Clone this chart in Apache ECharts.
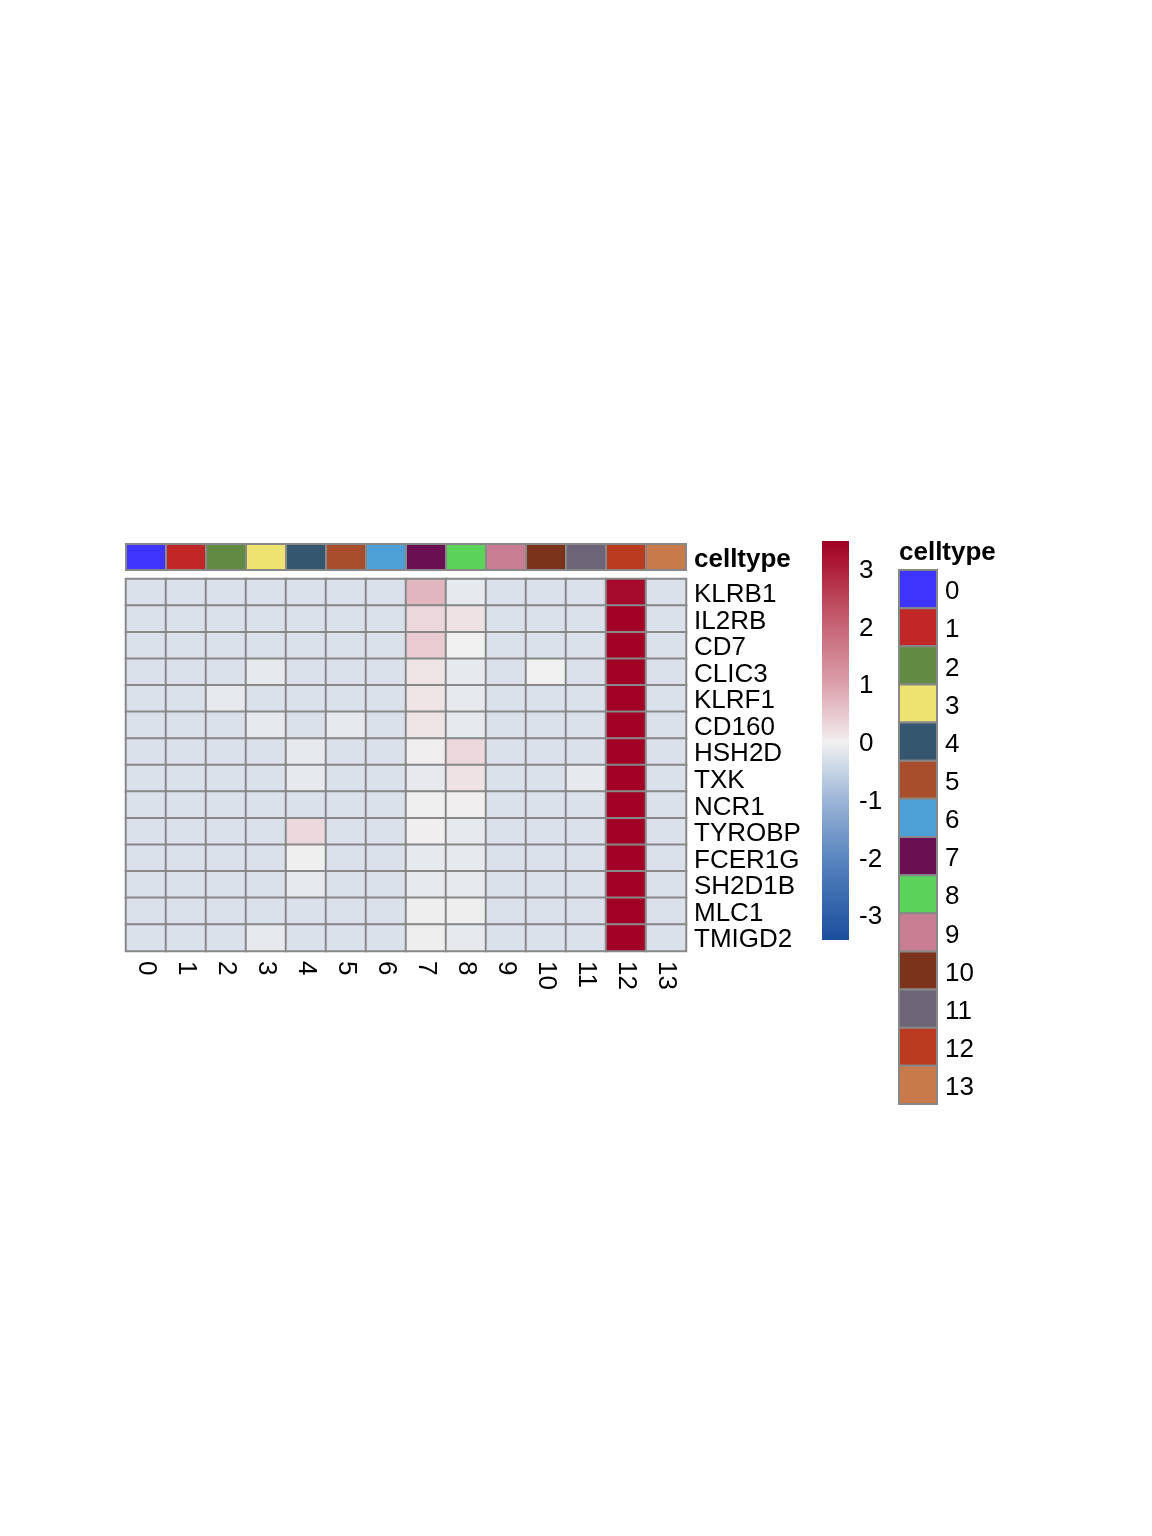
<!DOCTYPE html>
<html>
<head>
<meta charset="utf-8">
<script src="https://cdn.jsdelivr.net/npm/echarts@6/dist/echarts.min.js"></script>
<style>
html,body{margin:0;padding:0;background:#ffffff;}
#chart{width:1152px;height:1536px;}
</style>
</head>
<body>
<div id="chart"></div>
<script>
// ---- data ----
const clusters = ['0','1','2','3','4','5','6','7','8','9','10','11','12','13'];
const genes = ['KLRB1','IL2RB','CD7','CLIC3','KLRF1','CD160','HSH2D','TXK','NCR1','TYROBP','FCER1G','SH2D1B','MLC1','TMIGD2'];
const clusterColors = ['#3F33FF','#C22727','#638A43','#EEE371','#34566F','#A84E2C','#4DA0D6','#6A0F52','#5BD35A','#C97D92','#7B341B','#6D6478','#BA3B20','#C97A4A'];

const rowKLRB1  = [-0.27,-0.27,-0.27,-0.27,-0.27,-0.27,-0.27, 0.72,-0.13,-0.27,-0.27,-0.27,3.35,-0.27];
const rowIL2RB  = [-0.27,-0.27,-0.27,-0.27,-0.27,-0.27,-0.27, 0.29, 0.17,-0.27,-0.27,-0.27,3.47,-0.27];
const rowCD7    = [-0.27,-0.27,-0.27,-0.27,-0.27,-0.27,-0.27, 0.45, 0.00,-0.27,-0.27,-0.27,3.47,-0.27];
const rowCLIC3  = [-0.27,-0.27,-0.27,-0.13,-0.27,-0.27,-0.27, 0.15,-0.13,-0.27, 0.00,-0.27,3.47,-0.27];
const rowKLRF1  = [-0.27,-0.27,-0.13,-0.27,-0.27,-0.27,-0.27, 0.15,-0.13,-0.27,-0.27,-0.27,3.47,-0.27];
const rowCD160  = [-0.27,-0.27,-0.27,-0.13,-0.27,-0.13,-0.27, 0.15,-0.13,-0.27,-0.27,-0.27,3.47,-0.27];
const rowHSH2D  = [-0.27,-0.27,-0.27,-0.27,-0.13,-0.27,-0.27, 0.02, 0.29,-0.27,-0.27,-0.27,3.47,-0.27];
const rowTXK    = [-0.27,-0.27,-0.27,-0.27,-0.13,-0.27,-0.27,-0.12, 0.17,-0.27,-0.27,-0.13,3.47,-0.27];
const rowNCR1   = [-0.27,-0.27,-0.27,-0.27,-0.27,-0.27,-0.27,-0.02, 0.03,-0.27,-0.27,-0.27,3.47,-0.27];
const rowTYROBP = [-0.27,-0.27,-0.27,-0.27, 0.29,-0.27,-0.27, 0.03,-0.13,-0.27,-0.27,-0.27,3.47,-0.27];
const rowFCER1G = [-0.27,-0.27,-0.27,-0.27,-0.02,-0.27,-0.27,-0.13,-0.13,-0.27,-0.27,-0.27,3.47,-0.27];
const rowSH2D1B = [-0.27,-0.27,-0.27,-0.27,-0.13,-0.27,-0.27,-0.13,-0.13,-0.27,-0.27,-0.27,3.47,-0.27];
const rowMLC1   = [-0.27,-0.27,-0.27,-0.27,-0.27,-0.27,-0.27,-0.03,-0.03,-0.27,-0.27,-0.27,3.47,-0.27];
const rowTMIGD2 = [-0.27,-0.27,-0.27,-0.13,-0.27,-0.27,-0.27,-0.03,-0.13,-0.27,-0.27,-0.27,3.47,-0.27];
const matrix = [rowKLRB1,rowIL2RB,rowCD7,rowCLIC3,rowKLRF1,rowCD160,rowHSH2D,rowTXK,rowNCR1,rowTYROBP,rowFCER1G,rowSH2D1B,rowMLC1,rowTMIGD2];

const scaleTicks = [-3,-2,-1,0,1,2,3];
const scaleMin = -3.43, scaleMax = 3.48;
// palette (evenly spaced from -3.5 to 3.5)
const paletteValues = [-3.5,-3,-2.5,-2,-1.5,-1,-0.5,0,0.5,1,1.5,2,2.5,3,3.5];
const palette = ['#1B4E9E','#2D5FA8','#4372B4','#5A86C0','#7A9DCB','#9DB6D7','#C6D4E6','#F1F0F0','#E8C7CD','#DBA0AC','#D0828F','#C76576','#BB4559','#AE1F3A','#A10024'];

// ---- build ----
const heatData = [];
matrix.forEach((row, r) => row.forEach((v, c) => heatData.push([c, r, v])));
const annoData = clusters.map((c, i) => [i, 0, i]);
const legendData = clusters.map((c, i) => [0, i, i]);

const FONT = 'Liberation Sans, Arial, sans-serif';
const GRAY = '#888888';

const chart = echarts.init(document.getElementById('chart'), null, {renderer: 'canvas'});

function cellRect(params, api) {
  const c = api.coord([api.value(0), api.value(1)]);
  const s = api.size([1, 1]);
  return {
    type: 'rect',
    shape: {x: c[0] - s[0] / 2, y: c[1] - s[1] / 2, width: s[0], height: s[1]},
    style: {fill: clusterColors[api.value(2)], stroke: GRAY, lineWidth: 2}
  };
}

function shiftedLabel(shift, bold) {
  return {
    interval: 0, margin: 8, color: '#000',
    formatter: '{a|{value}}',
    rich: {a: {fontSize: 26, fontFamily: FONT, fontWeight: bold ? 'bold' : 'normal', color: '#000', padding: [shift, 0, 0, 0]}}
  };
}

const stops = paletteValues.map((v, i) => ({
  offset: Math.min(1, Math.max(0, (scaleMax - v) / (scaleMax - scaleMin))),
  color: palette[i]
}));

const cbLabel = shiftedLabel(4, false);
cbLabel.customValues = scaleTicks;
cbLabel.margin = 10;
delete cbLabel.interval;

chart.setOption({
  backgroundColor: '#ffffff',
  animation: false,
  title: {
    text: 'celltype', left: 899, top: 540, padding: 0,
    textStyle: {fontFamily: FONT, fontSize: 26, fontWeight: 'bold', color: '#000'}
  },
  grid: [
    {left: 126, top: 579, width: 560, height: 372},
    {left: 126, top: 544, width: 560, height: 26},
    {left: 822, top: 541, width: 27, height: 399},
    {left: 899, top: 570, width: 38, height: 534}
  ],
  xAxis: [
    {gridIndex: 0, type: 'category', data: clusters,
     axisLine: {show: false}, axisTick: {show: false}, splitLine: {show: false},
     axisLabel: {interval: 0, rotate: -90, margin: 10, fontSize: 26, fontFamily: FONT, color: '#000'}},
    {gridIndex: 1, type: 'category', data: clusters, show: false},
    {gridIndex: 2, type: 'value', min: 0, max: 1, show: false},
    {gridIndex: 3, type: 'category', data: ['celltype'], show: false}
  ],
  yAxis: [
    {gridIndex: 0, type: 'category', data: genes, inverse: true, position: 'right',
     axisLine: {show: false}, axisTick: {show: false}, splitLine: {show: false},
     axisLabel: shiftedLabel(5, false)},
    {gridIndex: 1, type: 'category', data: ['celltype'], position: 'right',
     axisLine: {show: false}, axisTick: {show: false},
     axisLabel: shiftedLabel(6, true)},
    {gridIndex: 2, type: 'value', min: scaleMin, max: scaleMax, position: 'right',
     axisLine: {show: false}, axisTick: {show: false}, splitLine: {show: false},
     axisLabel: cbLabel},
    {gridIndex: 3, type: 'category', data: clusters, inverse: true, position: 'right',
     axisLine: {show: false}, axisTick: {show: false},
     axisLabel: shiftedLabel(6, false)}
  ],
  visualMap: {
    type: 'continuous', show: false, seriesIndex: 0, dimension: 2,
    min: -3.5, max: 3.5, inRange: {color: palette}
  },
  series: [
    {type: 'heatmap', xAxisIndex: 0, yAxisIndex: 0, data: heatData,
     itemStyle: {borderColor: GRAY, borderWidth: 2}, emphasis: {disabled: true}},
    {type: 'custom', xAxisIndex: 1, yAxisIndex: 1, data: annoData, renderItem: cellRect},
    {type: 'custom', xAxisIndex: 2, yAxisIndex: 2, data: [[0.5, 0]],
     renderItem: function (params, api) {
       const top = api.coord([0, scaleMax]);
       const bot = api.coord([0, scaleMin]);
       const left = api.coord([0, 0])[0];
       const right = api.coord([1, 0])[0];
       return {
         type: 'rect',
         shape: {x: left, y: top[1], width: right - left, height: bot[1] - top[1]},
         style: {fill: new echarts.graphic.LinearGradient(0, 0, 0, 1, stops)}
       };
     }},
    {type: 'custom', xAxisIndex: 3, yAxisIndex: 3, data: legendData, renderItem: cellRect}
  ]
});
</script>
</body>
</html>
